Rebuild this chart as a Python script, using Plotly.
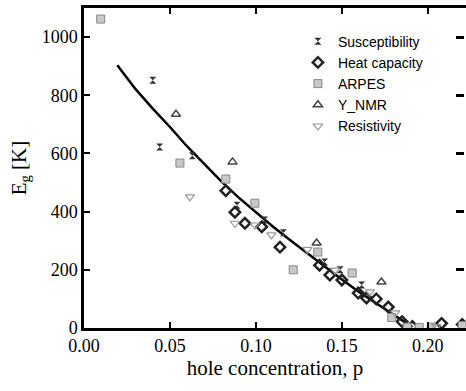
import plotly.graph_objects as go

# Data
sus_p = [0.040, 0.044, 0.063, 0.089, 0.105, 0.116, 0.140, 0.149, 0.1615]
sus_e = [852, 622, 592, 422, 371, 327, 227, 200, 148]

heat_p = [0.0825, 0.0878, 0.0936, 0.1034, 0.114, 0.137, 0.143, 0.150, 0.1595, 0.1643, 0.170, 0.177, 0.185, 0.191, 0.208, 0.220]
heat_e = [472, 398, 360, 348, 278, 216, 182, 165, 120, 103, 100, 72, 22, 5, 16, 12]

arpes_p = [0.0097, 0.0558, 0.0825, 0.0994, 0.1217, 0.136, 0.156, 0.179, 0.188, 0.195, 0.202, 0.220]
arpes_e = [1062, 567, 512, 429, 200, 261, 189, 36, 3, 2, 3, 8]

nmr_p = [0.0535, 0.0864, 0.1353, 0.173]
nmr_e = [735, 571, 292, 158]

res_p = [0.0616, 0.0878, 0.0994, 0.109, 0.130, 0.146, 0.1663, 0.181, 0.205]
res_e = [451, 360, 354, 320, 270, 199, 124, 52, 5]

fit_p = [0.0194, 0.03, 0.04, 0.05, 0.06, 0.07, 0.08, 0.09, 0.10, 0.11, 0.12, 0.13, 0.14, 0.15, 0.16, 0.17, 0.18, 0.191]
fit_e = [903, 821, 754, 691, 624, 562, 503, 448, 397, 348, 302, 256, 210, 167, 124, 84, 45, 3]

x_ticks = [0.00, 0.05, 0.10, 0.15, 0.20]
x_labels = ["0.00", "0.05", "0.10", "0.15", "0.20"]
y_ticks = [0, 200, 400, 600, 800, 1000]

fig = go.Figure()

fig.add_trace(go.Scatter(x=fit_p, y=fit_e, mode="lines", line=dict(color="black", width=2.5),
                         showlegend=False, hoverinfo="skip"))

fig.add_trace(go.Scatter(x=sus_p, y=sus_e, mode="markers", name="Susceptibility",
                         marker=dict(symbol="hourglass", size=7, color="#333333",
                                     line=dict(width=0))))
fig.add_trace(go.Scatter(x=heat_p, y=heat_e, mode="markers", name="Heat capacity",
                         marker=dict(symbol="diamond-open", size=8, color="#222222",
                                     line=dict(width=2.5, color="#222222"))))
fig.add_trace(go.Scatter(x=arpes_p, y=arpes_e, mode="markers", name="ARPES",
                         marker=dict(symbol="square", size=8, color="#c8c8c8",
                                     line=dict(width=1, color="#888888"))))
fig.add_trace(go.Scatter(x=nmr_p, y=nmr_e, mode="markers", name="Y_NMR",
                         marker=dict(symbol="triangle-up-open", size=8, color="#444444",
                                     line=dict(width=1.5, color="#444444"))))
fig.add_trace(go.Scatter(x=res_p, y=res_e, mode="markers", name="Resistivity",
                         marker=dict(symbol="triangle-down-open", size=8, color="#999999",
                                     line=dict(width=1.2, color="#999999"))))
# trace carrying the right-hand tick axis (drawn with the same values, hidden)
fig.add_trace(go.Scatter(x=fit_p, y=fit_e, yaxis="y2", mode="lines", showlegend=False,
                         line=dict(width=0, color="rgba(0,0,0,0)"), hoverinfo="skip"))

serif = "Liberation Serif"

fig.update_layout(
    width=466, height=391,
    margin=dict(l=84, r=0, t=8, b=63),
    plot_bgcolor="white", paper_bgcolor="white",
    font=dict(family=serif, color="black"),
    showlegend=True,
    legend=dict(x=0.56, y=0.945, xanchor="left", yanchor="top",
                bgcolor="rgba(0,0,0,0)", borderwidth=0,
                font=dict(family="Liberation Sans", size=14, color="black"),
                tracegroupgap=0, itemwidth=30),
    xaxis=dict(range=[0, 0.2222], tickmode="array", tickvals=x_ticks, ticktext=x_labels,
               ticks="inside", ticklen=6, tickwidth=2, tickcolor="black",
               showline=True, linewidth=2.5, linecolor="black", mirror="ticks",
               showgrid=False, zeroline=False,
               tickfont=dict(family=serif, size=18, color="black"),
               title=dict(text="hole concentration, p", font=dict(family=serif, size=21, color="black"), standoff=4)),
    yaxis=dict(range=[0, 1100], tickmode="array", tickvals=y_ticks,
               ticks="inside", ticklen=6, tickwidth=2, tickcolor="black",
               showline=True, linewidth=2.5, linecolor="black", mirror=False,
               showgrid=False, zeroline=False,
               tickfont=dict(family=serif, size=18, color="black"),
               title=dict(text="E<sub>g</sub> [K]", font=dict(family=serif, size=21, color="black"), standoff=10)),
    yaxis2=dict(range=[0, 1100], dtick=200, overlaying="y", side="right",
                anchor="free", position=0.996,
                ticks="inside", ticklen=8, tickwidth=2.5, tickcolor="black",
                showticklabels=False, showgrid=False, zeroline=False),
)

fig.write_html("out.html")
